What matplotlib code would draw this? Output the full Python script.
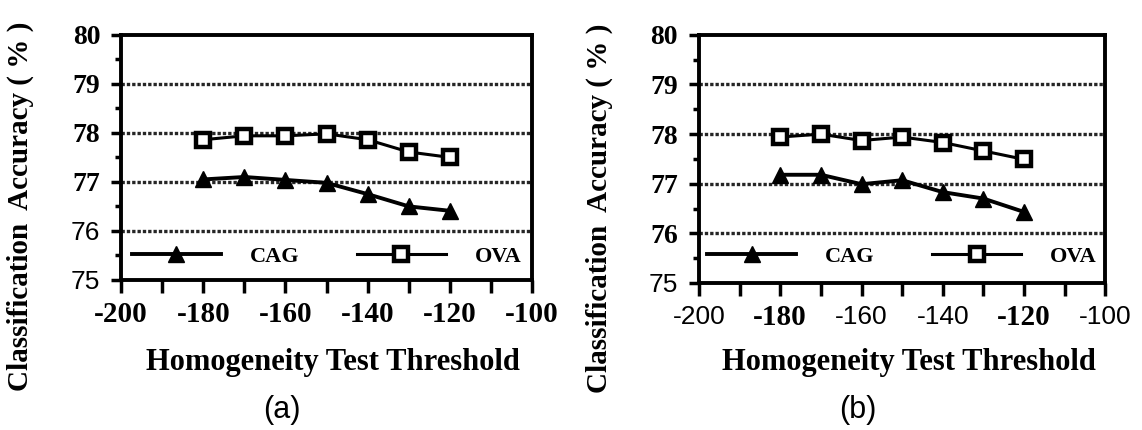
import matplotlib
matplotlib.use("Agg")
import matplotlib.pyplot as plt
from matplotlib.lines import Line2D

thresholds = [-180, -170, -160, -150, -140, -130, -120]

# panel (a)
cag_a = [77.05, 77.10, 77.04, 76.98, 76.75, 76.50, 76.41]
ova_a = [77.86, 77.94, 77.94, 77.98, 77.86, 77.61, 77.50]

# panel (b)
cag_b = [77.18, 77.18, 76.99, 77.07, 76.83, 76.70, 76.43]
ova_b = [77.94, 78.00, 77.87, 77.94, 77.83, 77.66, 77.49]

xticks = [-200, -180, -160, -140, -120, -100]
yticks = [75, 76, 77, 78, 79, 80]

# which tick labels come out in the serif bold face of the scan
serif_y = {"a": [77, 78, 79, 80], "b": [76, 77, 78, 79, 80]}
serif_x = {"a": xticks, "b": [-180, -120]}

SERIF = "Liberation Serif"
SANS = "Liberation Sans"

fig = plt.figure(figsize=(11.42, 4.30), dpi=100)
ax_a = fig.add_axes([0.106, 0.349, 0.360, 0.570])
ax_b = fig.add_axes([0.612, 0.342, 0.356, 0.577])


def draw(ax, cag, ova, key, caption, leg_y, xl_y, cap_y):
    for y in [76, 77, 78, 79]:
        ax.axhline(y, color="0.15", lw=2.4, ls=(0, (1, 0.6)), zorder=1)
    ax.plot(thresholds, cag, color="black", lw=2.8, marker="^", ms=11,
            mfc="black", mec="black", zorder=3)
    ax.plot(thresholds, ova, color="black", lw=2.2, marker="s", ms=10,
            mfc="white", mec="black", mew=3.2, zorder=3)

    ax.set_xlim(-200, -100)
    ax.set_ylim(75, 80)
    ax.set_xticks(xticks)
    ax.set_xticks(range(-190, -100, 10), minor=True)
    ax.set_yticks(yticks)
    ax.set_yticks([75.5, 76.5, 77.5, 78.5, 79.5], minor=True)
    ax.tick_params(which="both", direction="out", width=2.5, color="black")
    ax.tick_params(axis="y", which="major", length=7, pad=8)
    ax.tick_params(axis="y", which="minor", length=4)
    ax.tick_params(axis="x", which="both", length=9, pad=14)
    for s in ax.spines.values():
        s.set_linewidth(2.8)

    ax.set_yticklabels([str(v) for v in yticks])
    for v, lab in zip(yticks, ax.get_yticklabels()):
        if v in serif_y[key]:
            lab.set_fontfamily(SERIF)
            lab.set_fontweight("bold")
            lab.set_fontsize(20)
        else:
            lab.set_fontfamily(SANS)
            lab.set_fontsize(19)

    ax.set_xticklabels([str(v) for v in xticks])
    for v, lab in zip(xticks, ax.get_xticklabels()):
        if v in serif_x[key]:
            lab.set_fontfamily(SERIF)
            lab.set_fontweight("bold")
            lab.set_fontsize(21)
        else:
            lab.set_fontfamily(SANS)
            lab.set_fontsize(19)
        lab.set_va("center_baseline")

    ax.set_xlabel("Homogeneity Test Threshold", fontfamily=SERIF,
                  fontweight="bold", fontsize=22, va="center")
    ax.xaxis.set_label_coords(0.516, xl_y)
    ax.set_ylabel("Classification  Accuracy ( % )", fontfamily=SERIF,
                  fontweight="bold", fontsize=21, va="center")
    ax.yaxis.set_label_coords(-0.245, 0.30)

    handles = [
        Line2D([], [], color="black", lw=2.8, marker="^", ms=11, mfc="black"),
        Line2D([], [], color="black", lw=2.2, marker="s", ms=10, mfc="white",
               mew=3.2),
    ]
    ax.legend(handles, ["CAG", "OVA"], loc="center", ncol=2,
              frameon=False, handlelength=4.0, handletextpad=1.3,
              columnspacing=2.6, bbox_to_anchor=(0.50, leg_y),
              borderpad=0, prop={"family": SERIF, "weight": "bold",
                                 "size": 16})

    ax.text(0.392, cap_y, caption, transform=ax.transAxes, ha="center",
            va="center", fontfamily=SANS, fontsize=22)


draw(ax_a, cag_a, ova_a, "a", "(a)", 0.094, -0.335, -0.531)
draw(ax_b, cag_b, ova_b, "b", "(b)", 0.105, -0.319, -0.512)

fig.savefig("out.png", dpi=100)
